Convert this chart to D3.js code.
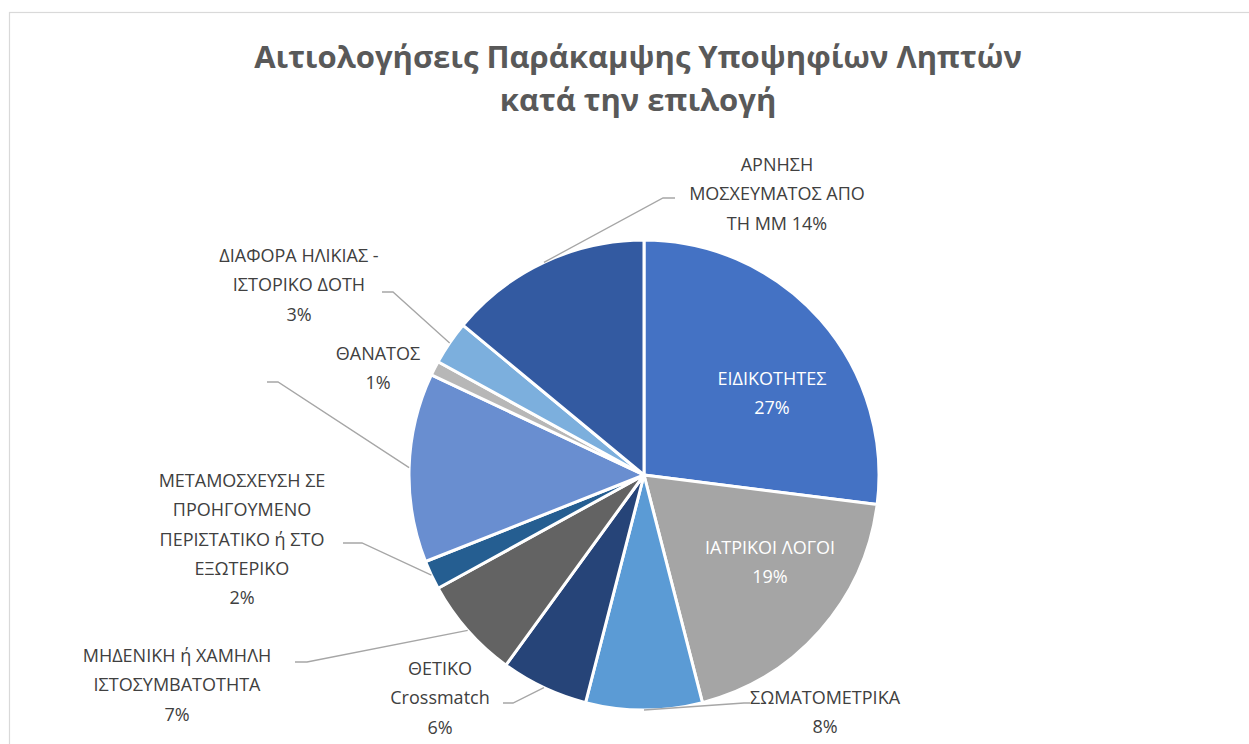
<!DOCTYPE html>
<meta charset="utf-8">
<script src="https://d3js.org/d3.v7.min.js"></script>
<style>
    body { margin: 0; background-color: white; }
    svg { display: block; }
</style>
<body>
<script>
    // chart data
    const categories = ["ΕΙΔΙΚΟΤΗΤΕΣ", "ΙΑΤΡΙΚΟΙ ΛΟΓΟΙ", "ΣΩΜΑΤΟΜΕΤΡΙΚΑ", "ΘΕΤΙΚΟ Crossmatch",
        "ΜΗΔΕΝΙΚΗ ή ΧΑΜΗΛΗ ΙΣΤΟΣΥΜΒΑΤΟΤΗΤΑ", "ΜΕΤΑΜΟΣΧΕΥΣΗ ΣΕ ΠΡΟΗΓΟΥΜΕΝΟ ΠΕΡΙΣΤΑΤΙΚΟ ή ΣΤΟ ΕΞΩΤΕΡΙΚΟ",
        "", "ΘΑΝΑΤΟΣ", "ΔΙΑΦΟΡΑ ΗΛΙΚΙΑΣ - ΙΣΤΟΡΙΚΟ ΔΟΤΗ", "ΑΡΝΗΣΗ ΜΟΣΧΕΥΜΑΤΟΣ ΑΠΟ ΤΗ ΜΜ"];
    const values = [27, 19, 8, 6, 7, 2, 13, 1, 3, 14];
    // how each category name wraps in its label
    const wrapped = [
        ["ΕΙΔΙΚΟΤΗΤΕΣ"],
        ["ΙΑΤΡΙΚΟΙ ΛΟΓΟΙ"],
        ["ΣΩΜΑΤΟΜΕΤΡΙΚΑ"],
        ["ΘΕΤΙΚΟ", "Crossmatch"],
        ["ΜΗΔΕΝΙΚΗ ή ΧΑΜΗΛΗ", "ΙΣΤΟΣΥΜΒΑΤΟΤΗΤΑ"],
        ["ΜΕΤΑΜΟΣΧΕΥΣΗ ΣΕ", "ΠΡΟΗΓΟΥΜΕΝΟ", "ΠΕΡΙΣΤΑΤΙΚΟ ή ΣΤΟ", "ΕΞΩΤΕΡΙΚΟ"],
        [],
        ["ΘΑΝΑΤΟΣ"],
        ["ΔΙΑΦΟΡΑ ΗΛΙΚΙΑΣ -", "ΙΣΤΟΡΙΚΟ ΔΟΤΗ"],
        ["ΑΡΝΗΣΗ", "ΜΟΣΧΕΥΜΑΤΟΣ ΑΠΟ", "ΤΗ ΜΜ"]
    ];
    const titleLines = ["Αιτιολογήσεις Παράκαμψης Υποψηφίων Ληπτών", "κατά την επιλογή"];

    const colors = ["#4472C4", "#A5A5A5", "#5B9BD5", "#264478", "#636363",
        "#255E91", "#698ED0", "#B7B7B7", "#7CAFDD", "#335AA1"];

    // label layout: centre x, first baseline, leader elbow + end, text colour
    const labelLayout = [
        { x: 772, y: 385, fill: "#ffffff" },
        { x: 770, y: 554, fill: "#ffffff" },
        { x: 825, y: 704, fill: "#404040", elbow: [744, 703], end: [750, 703] },
        { x: 440, y: 675, fill: "#404040", elbow: [513, 703], end: [503, 703] },
        { x: 177, y: 662, fill: "#404040", elbow: [307, 662], end: [295, 662] },
        { x: 242, y: 487, fill: "#404040", elbow: [362, 543], end: [343, 543] },
        { x: 230, y: 382, fill: "#404040", elbow: [278, 382], end: [267, 382] },
        { x: 378, y: 360, fill: "#404040" },
        { x: 299, y: 262, fill: "#404040", elbow: [393, 292], end: [382, 292] },
        { x: 777, y: 171, fill: "#404040", elbow: [663, 198], end: [675, 198], inline: true }
    ];

    var width = 1249, height = 744;
    var cx = 644, cy = 475, radius = 235;
    var lineHeight = 29.3;
    var fontFamily = "'Open Sans', 'Noto Sans', sans-serif";

    var svg = d3.select("body").append("svg")
        .attr("width", width)
        .attr("height", height);

    // chart area border
    svg.append("rect")
        .attr("x", 9.5).attr("y", 12.5)
        .attr("width", 1400).attr("height", 900)
        .attr("fill", "white")
        .attr("stroke", "#d9d9d9")
        .attr("stroke-width", 1.2);

    // title
    svg.append("text")
        .attr("x", 638)
        .attr("text-anchor", "middle")
        .style("font-family", fontFamily)
        .style("font-weight", "bold")
        .style("font-size", "31px")
        .attr("fill", "#595959")
        .selectAll("tspan")
        .data(titleLines)
        .enter().append("tspan")
        .attr("x", 638)
        .attr("y", function (d, i) { return 68 + i * 43; })
        .text(function (d) { return d; });

    var pie = d3.pie().sort(null).value(function (d) { return d; });
    var arcs = pie(values);

    var arc = d3.arc().innerRadius(0).outerRadius(radius);

    var g = svg.append("g")
        .attr("transform", "translate(" + cx + "," + cy + ")");

    g.selectAll("path.slice")
        .data(arcs)
        .enter().append("path")
        .attr("class", "slice")
        .attr("d", arc)
        .attr("fill", function (d, i) { return colors[i]; })
        .attr("stroke", "white")
        .attr("stroke-width", 3)
        .attr("stroke-linejoin", "round");

    var pct = d3.format(".0%");
    var total = d3.sum(values);

    // leader lines
    svg.selectAll("polyline.leader")
        .data(arcs.filter(function (d, i) { return labelLayout[i].elbow; }))
        .enter().append("polyline")
        .attr("class", "leader")
        .attr("fill", "none")
        .attr("stroke", "#a6a6a6")
        .attr("stroke-width", 1.3)
        .attr("points", function (d) {
            var L = labelLayout[d.index];
            var mid = (d.startAngle + d.endAngle) / 2;
            var sx = cx + Math.sin(mid) * radius, sy = cy - Math.cos(mid) * radius;
            return [[sx, sy], L.elbow, L.end].map(function (p) { return p.join(","); }).join(" ");
        });

    // labels
    var labels = svg.selectAll("text.label")
        .data(arcs)
        .enter().append("text")
        .attr("class", "label")
        .attr("text-anchor", "middle")
        .style("font-family", fontFamily)
        .style("font-size", "18px")
        .attr("fill", function (d) { return labelLayout[d.index].fill; });

    labels.each(function (d) {
        var i = d.index, L = labelLayout[i];
        if (!categories[i]) return;
        var lines = wrapped[i].slice();
        var p = pct(values[i] / total);
        if (L.inline) lines[lines.length - 1] += " " + p;
        else lines.push(p);
        d3.select(this).selectAll("tspan")
            .data(lines)
            .enter().append("tspan")
            .attr("x", L.x)
            .attr("y", function (t, k) { return L.y + k * lineHeight; })
            .text(function (t) { return t; });
    });
</script>
</body>
